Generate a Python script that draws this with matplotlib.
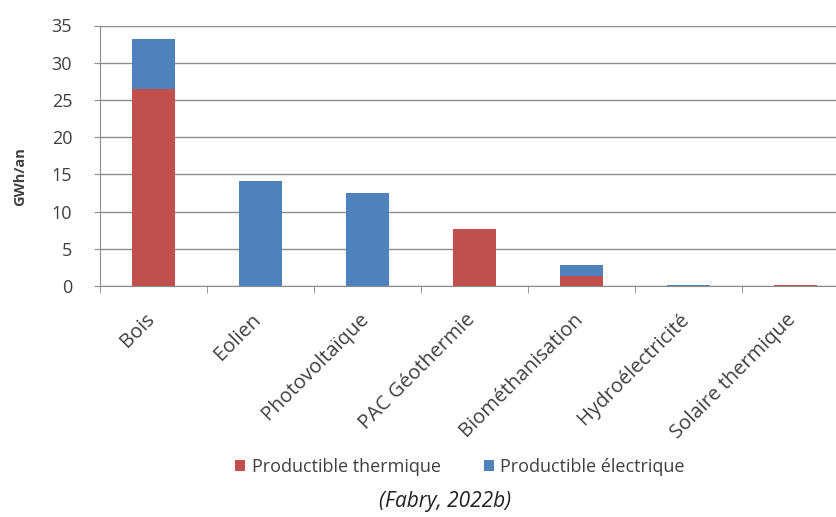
import matplotlib
matplotlib.use("Agg")
import matplotlib.pyplot as plt
import numpy as np

categories = ["Bois", "Eolien", "Photovoltaïque", "PAC Géothermie",
              "Biométhanisation", "Hydroélectricité", "Solaire thermique"]
thermique = [26.5, 0.0, 0.0, 7.7, 1.3, 0.0, 0.2]
electrique = [6.7, 14.1, 12.5, 0.0, 1.5, 0.2, 0.0]
yticks = [0, 5, 10, 15, 20, 25, 30, 35]

RED = "#C0504D"
BLUE = "#4F81BD"
GRID = "#8C8C8C"
TXT = "#404040"

plt.rcParams["font.family"] = ["Open Sans", "DejaVu Sans"]

W, H = 836, 517
fig = plt.figure(figsize=(W / 100, H / 100), dpi=100)
# plot area (pixel coordinates converted to figure fractions)
x0, x1 = 100, 849
y_top, y_bot = 25.5, 286
ax = fig.add_axes([x0 / W, (H - y_bot) / H, (x1 - x0) / W, (y_bot - y_top) / H])

x = np.arange(len(categories))
ax.bar(x, thermique, width=0.41, color=RED, label="Productible thermique", zorder=3)
ax.bar(x, electrique, width=0.41, bottom=thermique, color=BLUE,
       label="Productible électrique", zorder=3)

ax.set_xlim(-0.5, len(categories) - 0.5)
ax.set_ylim(0, 35)
ax.set_yticks(yticks)
ax.set_yticklabels([str(v) for v in yticks], fontsize=13, color=TXT)
ax.yaxis.grid(True, color=GRID, linewidth=1.0, zorder=0)
ax.tick_params(axis="y", length=4, color=GRID, pad=16)

ax.set_xticks(x - 0.02)
ax.set_xticklabels(categories, rotation=45, ha="right", va="center",
                   rotation_mode="anchor", fontsize=14.5, color=TXT)
ax.tick_params(axis="x", length=0, pad=22)
ax.set_xticks(np.arange(-0.5, len(categories), 1.0), minor=True)
ax.tick_params(axis="x", which="minor", length=5, color=GRID)

for side in ("top", "right"):
    ax.spines[side].set_visible(False)
ax.spines["left"].set_color(GRID)
ax.spines["bottom"].set_color(GRID)

ax.set_ylabel("GWh/an", fontsize=10.5, fontweight="bold", color=TXT)
ax.yaxis.set_label_coords(-0.097, 0.42)

handles, labels = ax.get_legend_handles_labels()
fig.legend(handles, labels, loc="center", bbox_to_anchor=(460 / W, 1 - 467 / H),
           ncol=2, frameon=False, fontsize=13, handlelength=0.55, handleheight=0.55,
           handletextpad=0.35, columnspacing=2.4, labelcolor=TXT)

fig.text(445 / W, 1 - 502 / H, "(Fabry, 2022b)", ha="center", va="center",
         fontsize=15, style="italic", color="#222222")

fig.savefig("out.png", dpi=100)
